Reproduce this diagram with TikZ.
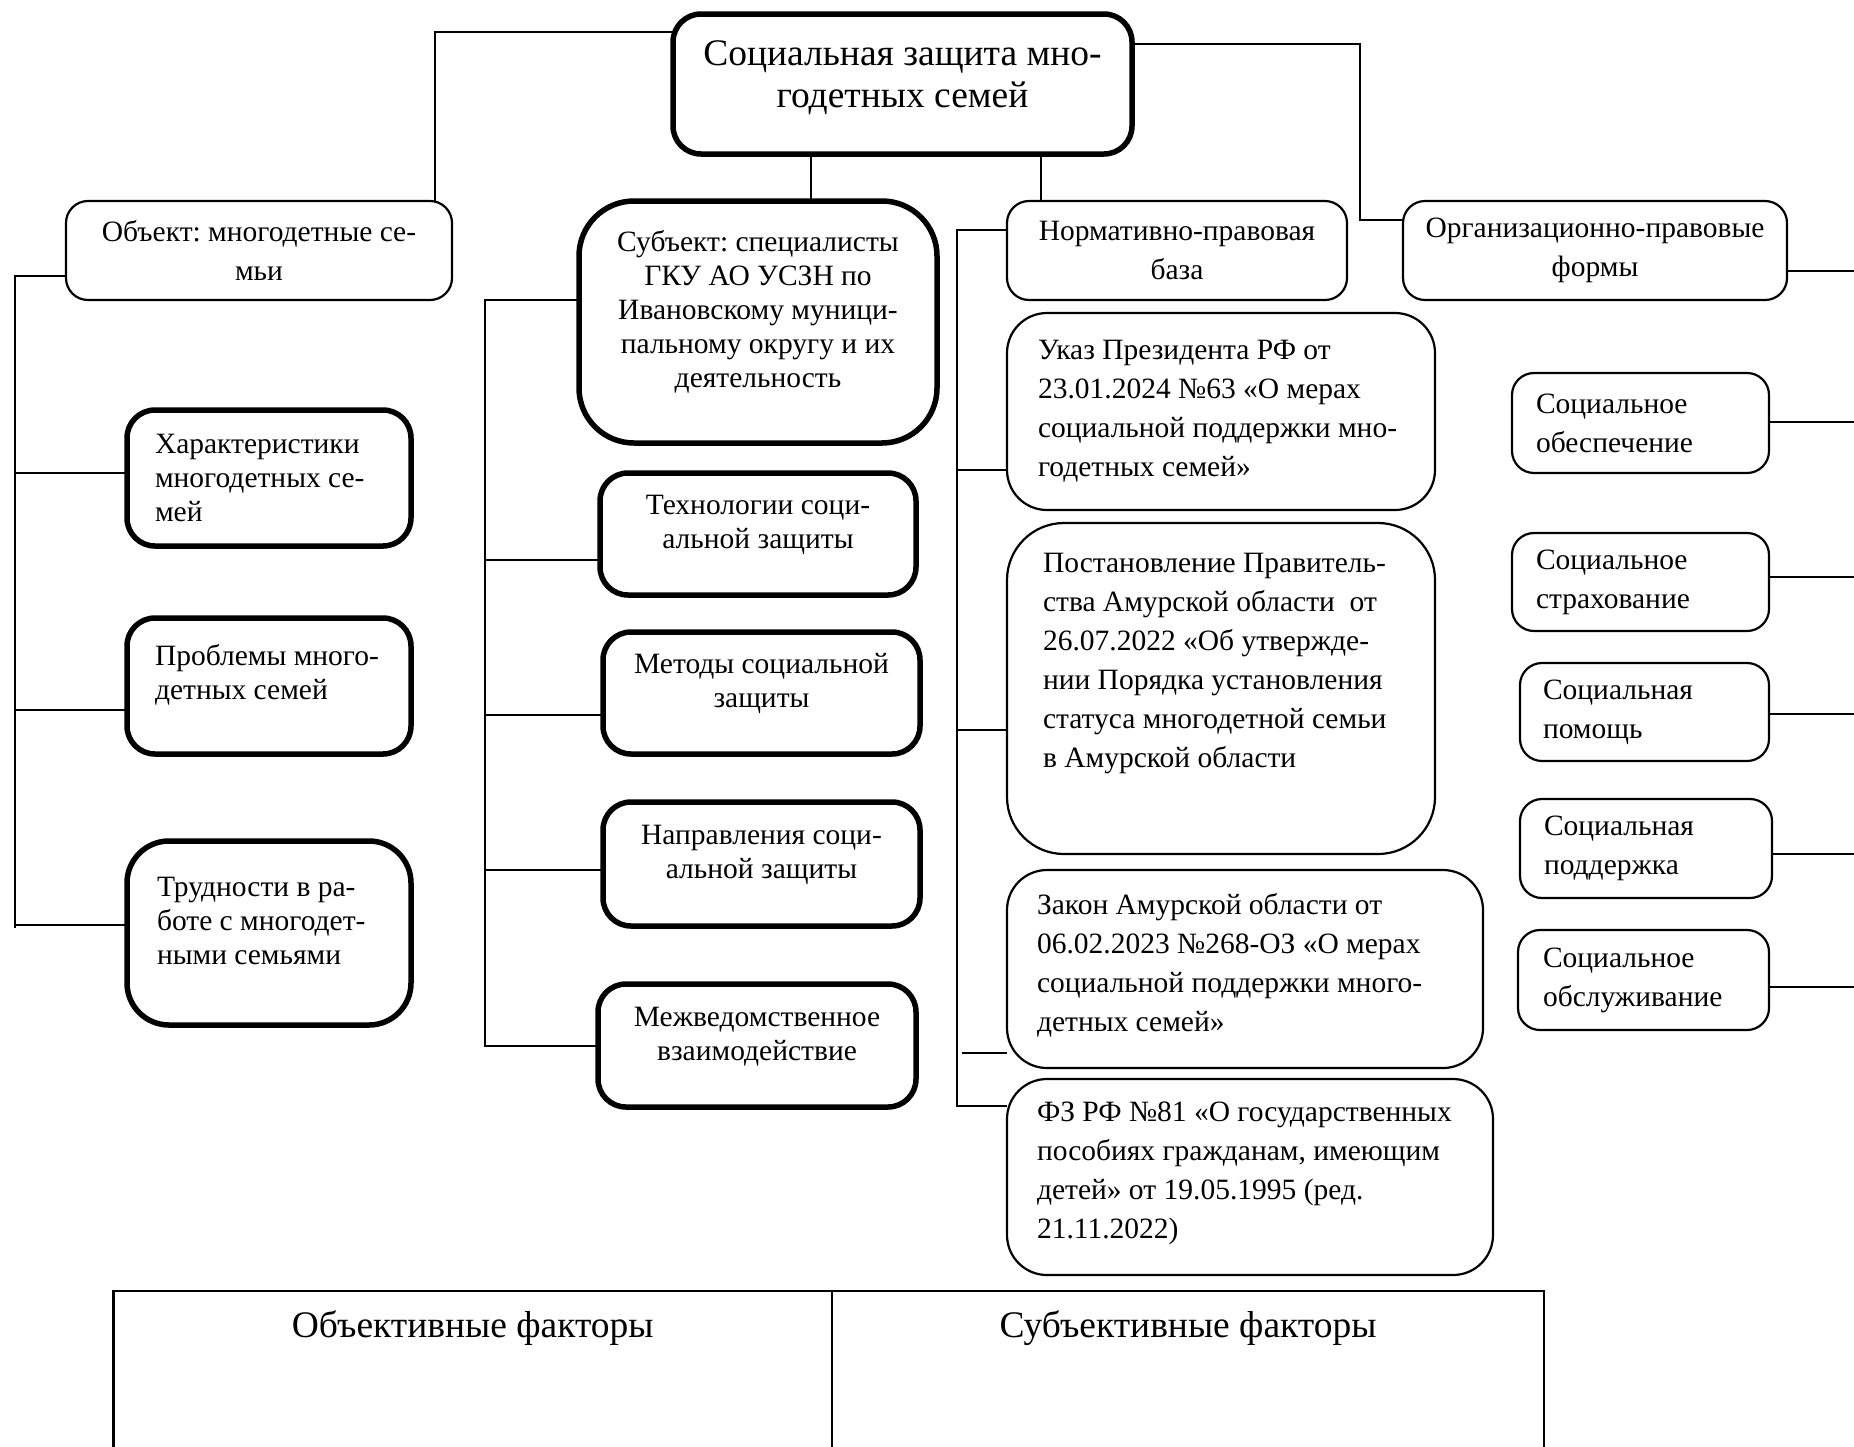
\documentclass[tikz,border=0pt]{standalone}
\usepackage{fontspec}
\setmainfont{Liberation Serif}
\frenchspacing
\newcommand\cbox[4]{\parbox[c][#2][c]{#1}{\centering #4\par\vspace*{#3}}}
\newcommand\lbox[5]{\parbox[c][#2][c]{#1}{\raggedright\leftskip=#3\relax #5\par\vspace*{#4}}}
\begin{document}
\frenchspacing
\begin{tikzpicture}[x=1pt,y=-1pt,
  every node/.style={inner sep=0pt, outer sep=0pt},
  lightbox/.style={draw, line width=2.2pt, rounded corners=22pt, font=\fontsize{29.5}{39}\selectfont},
  heavybox/.style={draw, line width=5.5pt, rounded corners=28pt, font=\fontsize{29.5}{34}\selectfont},
  lawbox/.style={draw, line width=2.2pt, rounded corners=40pt, font=\fontsize{29.5}{39}\selectfont},
  cell/.style={draw, line width=2.2pt, font=\fontsize{37.5}{41}\selectfont},
  link/.style={line width=2pt}]
\useasboundingbox (0,0) rectangle (1854,1446);

% top level
\node[heavybox, anchor=north west, font=\fontsize{37.5}{41.5}\selectfont] (title) at (673,14)
  {\cbox{459pt}{140pt}{13pt}{Социальная защита мно-\\годетных семей}};
\node[lightbox, anchor=north west] (obj) at (66,201)
  {\cbox{386pt}{99pt}{0pt}{Объект: многодетные се-\\мьи}};
\node[heavybox, rounded corners=55pt, anchor=north west] (subj) at (579,201)
  {\cbox{358pt}{242pt}{20pt}{Субъект: специалисты\\ГКУ АО УСЗН по\\Ивановскому муници-\\пальному округу и их\\деятельность}};
\node[lightbox, anchor=north west] (norm) at (1007,201)
  {\cbox{340pt}{99pt}{0pt}{Нормативно-правовая\\база}};
\node[lightbox, anchor=north west] (org) at (1403,201)
  {\cbox{384pt}{99pt}{0pt}{Организационно-правовые\\формы}};

% object column
\node[heavybox, anchor=north west] (ch) at (127,410)
  {\lbox{284pt}{136pt}{28pt}{0pt}{Характеристики\\многодетных се-\\мей}};
\node[heavybox, anchor=north west] (pr) at (127,618)
  {\lbox{284pt}{136pt}{28pt}{23pt}{Проблемы много-\\детных семей}};
\node[heavybox, rounded corners=42pt, anchor=north west] (tr) at (127,841)
  {\lbox{284pt}{184pt}{30pt}{24pt}{Трудности в ра-\\боте с многодет-\\ными семьями}};

% subject column
\node[heavybox, anchor=north west] (te) at (600,473)
  {\cbox{316pt}{122pt}{18pt}{Технологии соци-\\альной защиты}};
\node[heavybox, anchor=north west] (me) at (603,632)
  {\cbox{317pt}{122pt}{19pt}{Методы социальной\\защиты}};
\node[heavybox, anchor=north west] (na) at (603,802)
  {\cbox{317pt}{124pt}{18pt}{Направления соци-\\альной защиты}};
\node[heavybox, anchor=north west] (mv) at (598,984)
  {\cbox{318pt}{123pt}{18pt}{Межведомственное\\взаимодействие}};

% normative column
\node[lawbox, anchor=north west] (uk) at (1007,313)
  {\lbox{428pt}{197pt}{31pt}{0pt}{Указ Президента РФ от\\23.01.2024 №63 «О мерах\\социальной поддержки мно-\\годетных семей»}};
\node[lawbox, rounded corners=57pt, anchor=north west] (po) at (1007,523)
  {\lbox{428pt}{331pt}{36pt}{49pt}{Постановление Правитель-\\ства Амурской области\ \ от\\26.07.2022 «Об утвержде-\\нии Порядка установления\\статуса многодетной семьи\\в Амурской области}};
\node[lawbox, anchor=north west] (za) at (1007,870)
  {\lbox{476pt}{198pt}{30pt}{7pt}{Закон Амурской области от\\06.02.2023 №268-ОЗ «О мерах\\социальной поддержки много-\\детных семей»}};
\node[lawbox, anchor=north west] (fz) at (1007,1079)
  {\lbox{486pt}{196pt}{30pt}{7pt}{ФЗ РФ №81 «О государственных\\пособиях гражданам, имеющим\\детей» от 19.05.1995 (ред.\\21.11.2022)}};

% forms column
\node[lightbox, anchor=north west] (f1) at (1512,373)
  {\lbox{257pt}{100pt}{24pt}{0pt}{Социальное\\обеспечение}};
\node[lightbox, anchor=north west] (f2) at (1512,533)
  {\lbox{257pt}{98pt}{24pt}{0pt}{Социальное\\страхование}};
\node[lightbox, anchor=north west] (f3) at (1520,663)
  {\lbox{249pt}{98pt}{23pt}{0pt}{Социальная\\помощь}};
\node[lightbox, anchor=north west] (f4) at (1520,799)
  {\lbox{252pt}{99pt}{24pt}{0pt}{Социальная\\поддержка}};
\node[lightbox, anchor=north west] (f5) at (1518,930)
  {\lbox{251pt}{100pt}{25pt}{0pt}{Социальное\\обслуживание}};

% bottom table
\node[cell, anchor=north west] (objf) at (113.5,1291)
  {\parbox[t][170pt][t]{718.5pt}{\centering\vspace*{19.5pt}Объективные факторы}};
\node[cell, anchor=north west] (subf) at (832,1291)
  {\parbox[t][170pt][t]{712pt}{\centering\vspace*{19.5pt}Субъективные факторы}};

% spine coordinates
\coordinate (tl) at (434.5,32);
\coordinate (tr1) at (1360,44);
\coordinate (tr2) at (1360,220);
\coordinate (ls1) at (15,276);
\coordinate (ls2) at (15,928);
\coordinate (ms1) at (485,300);
\coordinate (ms2) at (485,1046);
\coordinate (ns1) at (957,230);
\coordinate (ns2) at (957,1106);
\coordinate (e0) at (1854,271);
\coordinate (e1) at (1854,422);
\coordinate (e2) at (1854,577);
\coordinate (e3) at (1854,714);
\coordinate (e4) at (1854,854);
\coordinate (e5) at (1854,987);

% top connectors
\draw[link] (title.west |- tl) -- (tl) -- (obj.north -| tl);
\draw[link] (title.south -| 811,0) -- (subj.north -| 811,0);
\draw[link] (title.south -| 1041,0) -- (norm.north -| 1041,0);
\draw[link] (title.east |- tr1) -- (tr1) -- (tr2) -- (org.west |- tr2);

% object spine
\draw[link] (obj.west |- ls1) -- (ls1) -- (ls2);
\draw[link] (ls1 |- 0,473) -- (ch.west |- 0,473);
\draw[link] (ls1 |- 0,710) -- (pr.west |- 0,710);
\draw[link] (ls1 |- 0,924.5) -- (tr.west |- 0,924.5);

% subject spine
\draw[link] (subj.west |- ms1) -- (ms1) -- (ms2) -- (mv.west |- ms2);
\draw[link] (ms1 |- 0,560) -- (te.west |- 0,560);
\draw[link] (ms1 |- 0,715) -- (me.west |- 0,715);
\draw[link] (ms1 |- 0,870) -- (na.west |- 0,870);

% normative spine
\draw[link] (norm.west |- ns1) -- (ns1) -- (ns2) -- (fz.west |- ns2);
\draw[link] (ns1 |- 0,470) -- (uk.west |- 0,470);
\draw[link] (ns1 |- 0,730) -- (po.west |- 0,730);
\draw[link] (962,1053) -- (za.west |- 0,1053);

% forms
\draw[link] (org.east |- e0) -- (e0);
\draw[link] (f1.east |- e1) -- (e1);
\draw[link] (f2.east |- e2) -- (e2);
\draw[link] (f3.east |- e3) -- (e3);
\draw[link] (f4.east |- e4) -- (e4);
\draw[link] (f5.east |- e5) -- (e5);
\end{tikzpicture}
\end{document}
